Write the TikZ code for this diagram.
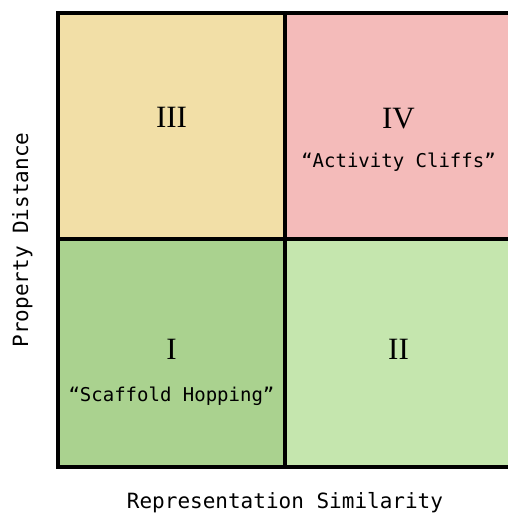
\documentclass[tikz,border=0pt]{standalone}
\usepackage{fontspec}
\setmainfont{Liberation Serif}
\newfontfamily\monofont{DejaVu Sans Mono}
\definecolor{cthree}{HTML}{F2DFA7}
\definecolor{cfour}{HTML}{F4BBBA}
\definecolor{cone}{HTML}{AAD28F}
\definecolor{ctwo}{HTML}{C5E6AE}
\begin{document}
\begin{tikzpicture}[x=1pt,y=-1pt,
  cell/.style={rectangle,draw=none,inner sep=0pt,minimum width=227pt,minimum height=226pt},
  numeral/.style={anchor=base,inner sep=0pt,font=\fontsize{31}{34}\selectfont},
  quote/.style={anchor=base,inner sep=0pt,font=\monofont\fontsize{19}{22}\selectfont},
  axislabel/.style={anchor=base,inner sep=0pt,font=\monofont\fontsize{21}{24}\selectfont},
  grid line/.style={line width=4pt,black}]
\useasboundingbox (0,0) rectangle (507,515);
\node[cell,fill=cthree] (q3) at (171.5,126) {};
\node[cell,fill=cfour] (q4) at (398.5,126) {};
\node[cell,fill=cone] (q1) at (171.5,353) {};
\node[cell,fill=ctwo] (q2) at (398.5,353) {};
\draw[grid line] (58,13) rectangle (512,467);
\draw[grid line] (q3.north east) -- (q1.south east);
\draw[grid line] (q3.south west) -- (q4.south east);
\node[numeral] (n3) at (171.5,127) {III};
\node[numeral] (n4) at (398.5,128) {IV};
\node[numeral] (n1) at (171.5,359) {I};
\node[numeral] (n2) at (398.5,359) {II};
\node[quote] (t4) at (398.5,167) {“Activity Cliffs”};
\node[quote] (t1) at (171.5,401) {“Scaffold Hopping”};
\node[axislabel] (xl) at (285,508) {Representation Similarity};
\node[axislabel,rotate=90] (yl) at (28,240) {Property Distance};
\end{tikzpicture}
\end{document}
